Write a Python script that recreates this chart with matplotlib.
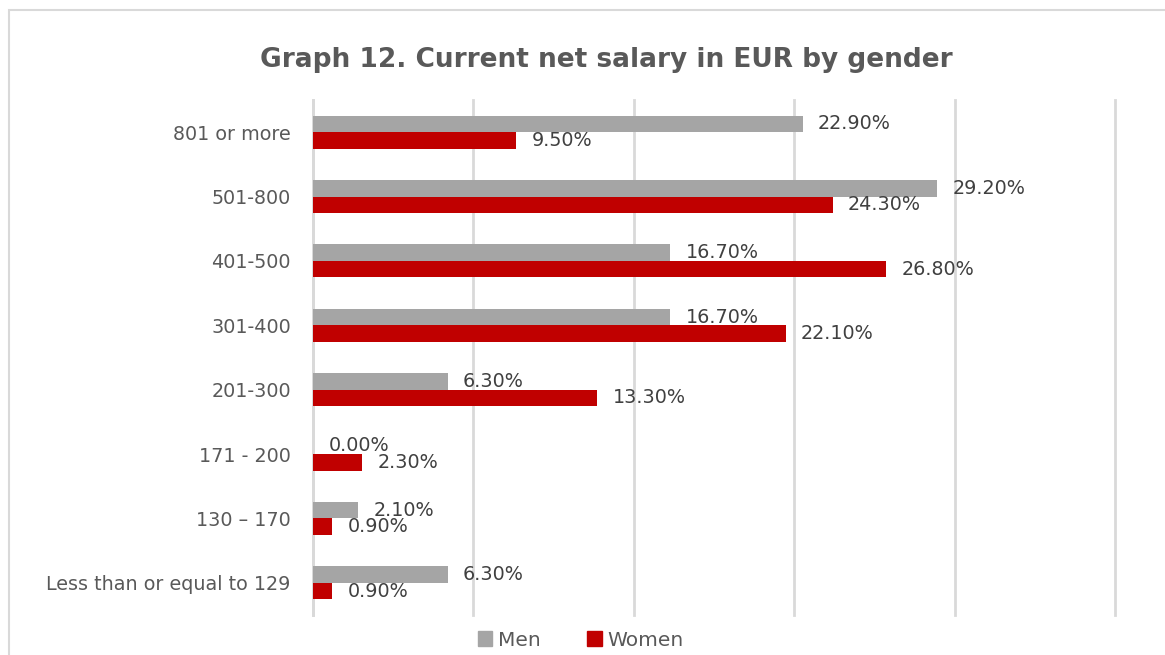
import matplotlib.pyplot as plt
from matplotlib.patches import Rectangle, Patch
import numpy as np

categories = ["801 or more", "501-800", "401-500", "301-400", "201-300",
              "171 - 200", "130 – 170", "Less than or equal to 129"]
men = [22.9, 29.2, 16.7, 16.7, 6.3, 0.0, 2.1, 6.3]
women = [9.5, 24.3, 26.8, 22.1, 13.3, 2.3, 0.9, 0.9]

grey = "#A5A5A5"
red = "#C00000"
txt = "#595959"
lab_c = "#404040"
grid_c = "#D9D9D9"

W, H = 1165, 655
fig = plt.figure(figsize=(W / 100, H / 100), dpi=100)

# chart border (only left and top visible in the crop)
fig.patches.append(Rectangle((9 / W, -0.1), 1.2, 1 - 10 / H + 0.1,
                             transform=fig.transFigure, fill=False,
                             edgecolor=grid_c, linewidth=1.5))

ax = fig.add_axes([313 / W, 1 - 615 / H, (1115 - 313) / W, (615 - 100) / H])

y = np.arange(len(categories))
h = 0.256
ax.barh(y - h / 2, men, height=h, color=grey, label="Men", zorder=3)
ax.barh(y + h / 2, women, height=h, color=red, label="Women", zorder=3)

for yi, v in zip(y, men):
    ax.annotate(f"{v:.2f}%", (v, yi - h / 2), xytext=(11, 0),
                textcoords="offset points", va="center", ha="left",
                fontsize=13.8, color=lab_c, zorder=4)
for yi, v in zip(y, women):
    ax.annotate(f"{v:.2f}%", (v, yi + h / 2), xytext=(11, 0),
                textcoords="offset points", va="center", ha="left",
                fontsize=13.8, color=lab_c, zorder=4)

ax.set_xlim(0, 37.5)
ax.set_ylim(len(categories) - 0.5, -0.5)
ax.set_xticks(np.arange(0, 37.6, 7.5))
ax.xaxis.grid(True, color=grid_c, linewidth=2)
for gl in ax.get_xgridlines():
    gl.set_clip_on(False)
ax.tick_params(axis="x", length=0, labelbottom=False)
ax.tick_params(axis="y", length=0, pad=16, labelsize=13.8, labelcolor=txt)
ax.set_yticks(y)
ax.set_yticklabels(categories)
for s in ["top", "right", "bottom"]:
    ax.spines[s].set_visible(False)
ax.spines["left"].set_color(grid_c)
ax.spines["left"].set_linewidth(2)

fig.text(606 / W, 1 - 60 / H, "Graph 12. Current net salary in EUR by gender",
         ha="center", va="center", fontsize=19, fontweight="bold", color=txt)

handles = [Patch(color=grey, label="Men"), Patch(color=red, label="Women")]
fig.legend(handles=handles, loc="center", bbox_to_anchor=(581 / W, 1 - 640 / H),
           ncol=2, frameon=False, fontsize=14.5, labelcolor=txt,
           handlelength=0.7, handleheight=0.7, handletextpad=0.3,
           columnspacing=2.3)

fig.savefig("out.png", dpi=100)
